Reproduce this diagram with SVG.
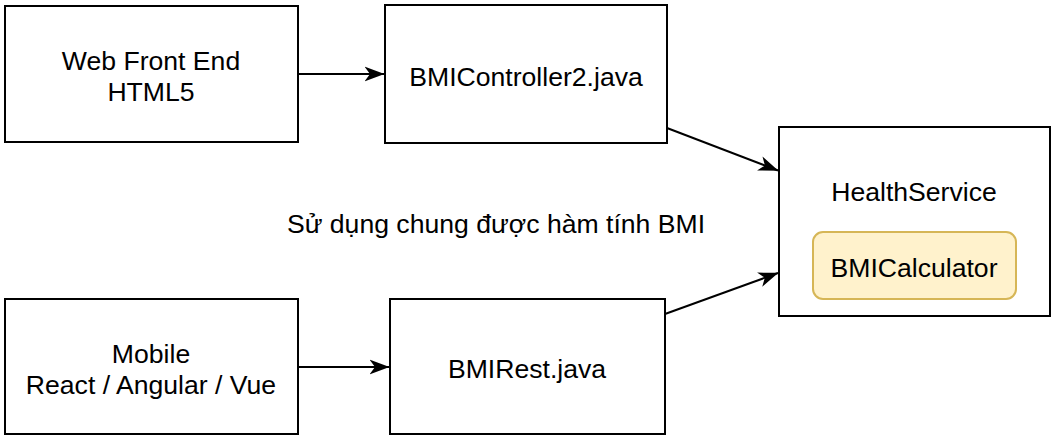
<svg xmlns="http://www.w3.org/2000/svg" width="1058" height="444" viewBox="0 0 1058 444">
<style>
.box{fill:#fff;stroke:#000;stroke-width:2}
.inner{fill:#fff2cc;stroke:#d6b656;stroke-width:2}
.t{font-family:"Liberation Sans",Arial,sans-serif;font-size:26.6px;fill:#000;text-anchor:middle}
.edge{fill:none;stroke:#000;stroke-width:2}
</style>
<defs>
<marker id="arr" viewBox="0 0 20 18" refX="19.5" refY="9" markerWidth="20" markerHeight="18" markerUnits="userSpaceOnUse" orient="auto">
<path d="M0,1.5 L20,9 L0,16.5 L5.5,9 Z" fill="#000"/>
</marker>
</defs>
<rect width="1058" height="444" fill="#fff"/>
<g id="connectors">
<line class="edge" x1="298" y1="74" x2="384" y2="74" marker-end="url(#arr)"/>
<line class="edge" x1="298" y1="367" x2="389" y2="367" marker-end="url(#arr)"/>
<line class="edge" x1="667" y1="128" x2="778" y2="170.5" marker-end="url(#arr)"/>
<line class="edge" x1="665" y1="314" x2="778" y2="273" marker-end="url(#arr)"/>
</g>
<g id="web">
<rect class="box" x="5" y="6" width="293" height="136"/>
<text class="t" x="151" y="70">Web Front End</text>
<text class="t" x="151" y="101">HTML5</text>
</g>
<g id="controller">
<rect class="box" x="385" y="5" width="282" height="138"/>
<text class="t" x="526" y="86">BMIController2.java</text>
</g>
<g id="mobile">
<rect class="box" x="5" y="299" width="293" height="135"/>
<text class="t" x="151" y="363">Mobile</text>
<text class="t" x="151" y="394">React / Angular / Vue</text>
</g>
<g id="rest">
<rect class="box" x="390" y="299" width="275" height="135"/>
<text class="t" x="527" y="378">BMIRest.java</text>
</g>
<g id="health">
<rect class="box" x="779" y="127" width="271" height="189" stroke="#222"/>
<text class="t" x="914" y="201">HealthService</text>
</g>
<g id="calculator">
<rect class="inner" x="813" y="232" width="203" height="67" rx="10" ry="10"/>
<text class="t" x="914" y="277">BMICalculator</text>
</g>
<g id="note">
<text class="t" x="496" y="233">Sử dụng chung được hàm tính BMI</text>
</g>
</svg>
